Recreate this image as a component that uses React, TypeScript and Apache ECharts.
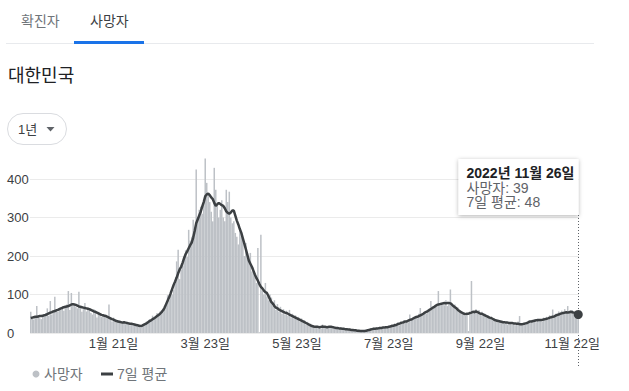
import React, { useEffect, useRef } from "react";
import * as echarts from "echarts";

const FONT = "'Liberation Sans', Arial, 'Noto Sans CJK KR', sans-serif";

// first day of the one-year window
const startYear = 2021;
const startMonth = 11; // November
const startDay = 27;

// daily deaths (사망자), Nov 27 2021 .. Nov 26 2022
const deaths: number[] = [
  55, 38, 35, 40, 70, 44, 38, 36, 47, 43,
  52, 64, 45, 83, 48, 53, 94, 58, 55, 63,
  62, 70, 58, 66, 74, 109, 60, 104, 78, 72,
  68, 64, 107, 69, 55, 62, 78, 56, 66, 60,
  52, 48, 62, 58, 40, 55, 50, 42, 48, 44,
  46, 38, 74, 35, 30, 40, 33, 28, 32, 29,
  24, 29, 31, 23, 28, 27, 20, 25, 24, 23,
  22, 17, 19, 14, 21, 24, 20, 30, 27, 36,
  31, 45, 38, 42, 52, 45, 56, 60, 54, 66,
  75, 98, 85, 110, 100, 112, 128, 186, 216, 140,
  165, 175, 200, 215, 198, 268, 240, 250, 294, 260,
  425, 300, 320, 328, 310, 345, 453, 390, 360, 340,
  315, 290, 429, 372, 330, 300, 320, 345, 300, 290,
  372, 340, 367, 300, 285, 290, 260, 250, 230, 270,
  260, 240, 200, 234, 210, 190, 208, 160, 170, 150,
  130, 221, 2, 255, 110, 100, 130, 95, 85, 100,
  92, 70, 85, 60, 75, 55, 68, 50, 62, 48,
  58, 45, 60, 40, 50, 38, 46, 35, 42, 30,
  38, 28, 33, 22, 29, 20, 24, 16, 20, 14,
  19, 13, 17, 12, 22, 15, 18, 14, 16, 13,
  17, 12, 15, 11, 14, 10, 15, 9, 13, 8,
  12, 7, 11, 6, 10, 5, 9, 4, 8, 3,
  7, 3, 6, 5, 9, 7, 12, 8, 14, 10,
  15, 9, 16, 11, 17, 12, 18, 13, 20, 15,
  22, 16, 25, 18, 28, 20, 30, 24, 33, 27,
  32, 28, 48, 33, 40, 36, 45, 38, 50, 65,
  46, 52, 55, 50, 60, 58, 83, 62, 66, 72,
  70, 109, 78, 74, 80, 72, 85, 70, 75, 113,
  72, 68, 74, 60, 66, 55, 58, 50, 54, 45,
  48, 5, 52, 135, 50, 58, 62, 50, 60, 48,
  55, 45, 50, 40, 46, 38, 42, 33, 38, 30,
  35, 28, 33, 26, 30, 24, 29, 22, 28, 25,
  22, 27, 20, 25, 30, 44, 24, 20, 26, 22,
  28, 32, 26, 34, 30, 36, 28, 38, 32, 35,
  30, 40, 36, 42, 34, 46, 40, 61, 44, 50,
  48, 56, 52, 58, 50, 62, 55, 70, 52, 58,
  60, 50, 55, 45, 39,
];

// 7-day average (7일 평균)
const avg7: number[] = [
  39, 40, 41, 42, 42, 43, 44, 44, 45, 46,
  47, 49, 51, 53, 54, 56, 57, 59, 60, 62,
  64, 65, 67, 68, 69, 70, 72, 74, 75, 74,
  73, 71, 69, 68, 67, 66, 65, 64, 63, 62,
  60, 58, 56, 55, 53, 51, 49, 47, 46, 45,
  44, 42, 40, 38, 36, 35, 33, 31, 30, 29,
  28, 27, 28, 27, 26, 25, 24, 24, 23, 22,
  21, 20, 19, 18, 19, 21, 23, 25, 28, 31,
  33, 36, 38, 41, 44, 47, 50, 54, 59, 66,
  75, 84, 93, 103, 114, 125, 134, 144, 155, 165,
  172, 183, 195, 205, 212, 220, 228, 235, 248, 265,
  285, 295, 305, 315, 328, 340, 355, 360, 362, 358,
  352, 348, 338, 330, 334, 338, 335, 332, 330, 324,
  316, 312, 310, 313, 318, 318, 305, 292, 282, 270,
  260, 246, 232, 218, 203, 188, 180, 172, 162, 152,
  143, 136, 127, 120, 116, 110, 106, 104, 96, 88,
  80, 76, 70, 66, 64, 61, 59, 57, 55, 53,
  52, 50, 48, 46, 44, 42, 40, 38, 36, 34,
  32, 30, 28, 26, 24, 22, 20, 18, 17, 16,
  16, 16, 15, 16, 17, 16, 16, 15, 16, 16,
  16, 15, 14, 13, 13, 12, 12, 11, 11, 10,
  10, 9, 9, 8, 8, 7, 7, 6, 6, 5,
  5, 5, 5, 6, 7, 8, 9, 10, 11, 11,
  12, 12, 13, 13, 14, 14, 15, 15, 16, 17,
  18, 19, 20, 21, 23, 24, 26, 27, 28, 30,
  30, 32, 34, 35, 37, 39, 41, 42, 44, 46,
  48, 50, 53, 55, 57, 60, 62, 65, 67, 70,
  73, 74, 75, 76, 77, 78, 77, 78, 78, 77,
  74, 70, 67, 64, 60, 57, 54, 52, 50, 49,
  50, 50, 52, 53, 55, 54, 56, 54, 52, 50,
  50, 48, 46, 44, 42, 40, 39, 37, 35, 33,
  32, 31, 30, 29, 28, 28, 27, 27, 26, 26,
  26, 25, 25, 24, 24, 23, 23, 23, 24, 25,
  26, 28, 30, 30, 31, 32, 33, 33, 34, 34,
  34, 35, 36, 37, 38, 40, 41, 42, 43, 45,
  47, 48, 50, 51, 52, 53, 54, 53, 54, 55,
  54, 53, 52, 50, 48,
];

// dates whose tick labels are shown
const labelDates: string[] = [
  "2022-01-21",
  "2022-03-23",
  "2022-05-23",
  "2022-07-23",
  "2022-09-22",
  "2022-11-22",
];

const yTicks: number[] = [0, 100, 200, 300, 400];

const pad = (n: number) => (n < 10 ? "0" + n : "" + n);

const dates: string[] = (() => {
  const out: string[] = [];
  const d = new Date(startYear, startMonth - 1, startDay);
  for (let i = 0; i < deaths.length; i++) {
    out.push(`${d.getFullYear()}-${pad(d.getMonth() + 1)}-${pad(d.getDate())}`);
    d.setDate(d.getDate() + 1);
  }
  return out;
})();

const labelSet = new Set(labelDates);

const fmtShort = (v: string) => {
  const [, m, d] = v.split("-");
  return `${parseInt(m, 10)}월 ${parseInt(d, 10)}일`;
};
const fmtLong = (v: string) => {
  const [y, m, d] = v.split("-");
  return `${y}년 ${parseInt(m, 10)}월 ${parseInt(d, 10)}일`;
};

const W = 629;
const H = 391;

export default function App() {
  const ref = useRef<HTMLDivElement>(null);

  useEffect(() => {
    if (!ref.current) return;
    const chart = echarts.init(ref.current, undefined, { renderer: "svg", width: W, height: H });
    const lastIdx = deaths.length - 1;
    const lastDate = dates[lastIdx];
    const lastDeaths = deaths[lastIdx];
    const lastAvg = avg7[lastIdx];

    chart.setOption({
      animation: false,
      backgroundColor: "#ffffff",
      textStyle: { fontFamily: FONT },
      grid: {
        left: 30,
        top: 179,
        width: 549,
        height: 154,
        containLabel: false,
        outerBoundsMode: "none",
      },
      xAxis: {
        type: "category",
        data: dates,
        boundaryGap: true,
        axisLine: { show: false },
        axisTick: { show: false },
        splitLine: { show: false },
        axisLabel: {
          interval: (_i: number, v: string) => labelSet.has(v),
          formatter: (v: string) => fmtShort(v),
          color: "#3c4043",
          fontSize: 13,
          fontFamily: FONT,
          margin: 4,
          hideOverlap: false,
        },
      },
      yAxis: {
        type: "value",
        min: yTicks[0],
        max: yTicks[yTicks.length - 1],
        interval: 100,
        axisLine: { show: false },
        axisTick: { show: false },
        splitLine: { lineStyle: { color: "#ebebeb", width: 1 } },
        axisLabel: {
          align: "left",
          margin: 23,
          color: "#3c4043",
          fontSize: 13,
          fontFamily: FONT,
        },
      },
      series: [
        {
          name: "사망자",
          type: "bar",
          data: deaths,
          clip: false,
          barCategoryGap: "0%",
          itemStyle: { color: "#bdc1c6" },
          silent: true,
          z: 2,
        },
        {
          name: "7일 평균",
          type: "line",
          data: avg7,
          symbol: "none",
          showSymbol: false,
          lineStyle: { color: "#3c4043", width: 2.5 },
          silent: true,
          z: 3,
          markPoint: {
            symbol: "circle",
            symbolSize: 9,
            itemStyle: { color: "#3c4043" },
            label: { show: false },
            silent: true,
            data: [{ coord: [lastDate, lastAvg] }],
          },
        },
      ],
    });

    const p = chart.convertToPixel({ xAxisIndex: 0, yAxisIndex: 0 }, [lastDate, lastAvg]) as number[];
    const px = Math.round(p[0]) + 0.5;

    const textStyle = (text: string, x: number, y: number, size: number, fill: string, weight = "normal") => ({
      type: "text",
      x,
      y,
      silent: true,
      style: {
        text,
        fill,
        fontSize: size,
        fontFamily: FONT,
        fontWeight: weight,
        verticalAlign: "middle",
        align: "left",
      },
    });

    chart.setOption({
      graphic: {
        elements: [
          // tabs
          textStyle("확진자", 21, 21, 14, "#70757a"),
          textStyle("사망자", 90, 21, 14, "#3c4043"),
          { type: "rect", silent: true, shape: { x: 6, y: 43, width: 588, height: 1 }, style: { fill: "#e8eaed" } },
          { type: "rect", silent: true, shape: { x: 74, y: 41, width: 70, height: 3 }, style: { fill: "#1a73e8" } },
          // title
          textStyle("대한민국", 8, 76, 18, "#202124"),
          // range selector
          {
            type: "rect",
            silent: true,
            shape: { x: 7.5, y: 113.5, width: 59, height: 31, r: 15.5 },
            style: { fill: "#ffffff", stroke: "#dadce0", lineWidth: 1 },
          },
          textStyle("1년", 18, 129, 13, "#3c4043"),
          {
            type: "polygon",
            silent: true,
            shape: { points: [[46.5, 127], [54.5, 127], [50.5, 131.5]] },
            style: { fill: "#5f6368" },
          },
          // legend
          { type: "circle", silent: true, shape: { cx: 36, cy: 374, r: 3.5 }, style: { fill: "#bdc1c6" } },
          textStyle("사망자", 44, 374, 14, "#70757a"),
          { type: "rect", silent: true, shape: { x: 101, y: 372.5, width: 12, height: 3 }, style: { fill: "#3c4043" } },
          textStyle("7일 평균", 117, 374, 14, "#70757a"),
          // hover guide line
          {
            type: "line",
            silent: true,
            z: 1,
            shape: { x1: px, y1: 215, x2: px, y2: 368 },
            style: { stroke: "#5f6368", lineWidth: 1, lineDash: [1, 2] },
          },
          // tooltip box
          {
            type: "rect",
            silent: true,
            shape: { x: px - 120, y: 159, width: 120, height: 56 },
            style: {
              fill: "#ffffff",
              shadowBlur: 4,
              shadowOffsetY: 1,
              shadowColor: "rgba(0,0,0,0.3)",
            },
          },
          textStyle(fmtLong(lastDate), px - 112, 173, 14, "#202124", "bold"),
          textStyle(`사망자: ${lastDeaths}`, px - 112, 187.5, 14, "#5f6368"),
          textStyle(`7일 평균: ${lastAvg}`, px - 112, 202, 14, "#5f6368"),
        ],
      },
    });

    return () => {
      chart.dispose();
    };
  }, []);

  return (
    <div style={{ position: "fixed", left: 0, top: 0, width: W, height: H, overflow: "hidden", background: "#fff" }}>
      <div ref={ref} style={{ width: W, height: H }} />
    </div>
  );
}
